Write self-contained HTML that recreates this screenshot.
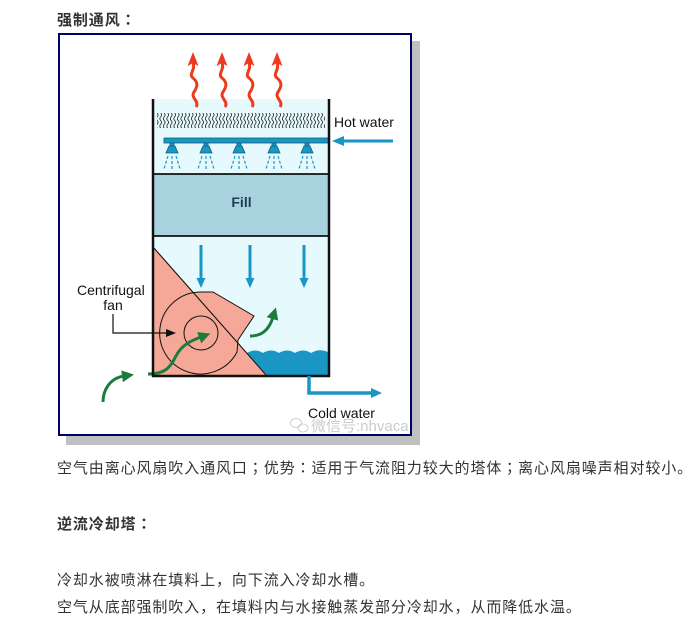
<!DOCTYPE html>
<html><head><meta charset="utf-8">
<style>
html,body{margin:0;padding:0;background:#fff;}
body{width:700px;height:630px;position:relative;overflow:hidden;}
.t{position:absolute;left:57px;font-family:"Liberation Sans","Noto Sans CJK SC",sans-serif;font-size:15px;line-height:20px;color:#333;letter-spacing:0.9px;white-space:nowrap;}
.b{font-weight:bold;}
.p{font-family:"Noto Sans CJK JP",sans-serif;}
svg{position:absolute;left:0;top:0;}
</style></head>
<body>
<div class="t b" style="top:10px">强制通风<span class="p">：</span></div>

<svg width="700" height="450" viewBox="0 0 700 450">
<defs>
 <pattern id="sq" x="156" y="113" width="3.5" height="15" patternUnits="userSpaceOnUse">
  <path d="M1.2,0 q1.8,1.9 0,3.75 t0,3.75 t0,3.75 t0,3.75" fill="none" stroke="#222" stroke-width="0.8"/>
 </pattern>
 <marker id="ga" markerUnits="userSpaceOnUse" markerWidth="12" markerHeight="12" refX="2" refY="6" orient="auto" viewBox="0 0 12 12">
  <path d="M0,0 L12,6 L0,12 Z" fill="#1c7c3e"/>
 </marker>
 <g id="ra">
  <path d="M3,55 C7,49 -3,46 1,40 C5,34 5,30 0,26 C-5,22 3,18 0,10" fill="none" stroke="#ee3a1c" stroke-width="3"/>
  <polygon points="0,0 5.5,14 0,11 -5.5,14" fill="#ee3a1c"/>
 </g>
 <g id="nz" fill="#1a96c4" stroke="#0d5f80" stroke-width="0.8">
  <rect x="-2" y="143" width="4" height="3"/>
  <polygon points="-3,146 3,146 6,153 -6,153"/>
  <g stroke="#1a96c4" stroke-width="1.2" stroke-dasharray="3 2" fill="none">
   <line x1="-4" y1="156" x2="-8" y2="169"/>
   <line x1="0" y1="156" x2="0" y2="169"/>
   <line x1="4" y1="156" x2="8" y2="169"/>
  </g>
 </g>
 <g id="da">
  <line x1="0" y1="245" x2="0" y2="279" stroke="#1a96c4" stroke-width="3"/>
  <polygon points="-4.5,278 4.5,278 0,288" fill="#1a96c4"/>
 </g>
</defs>

<!-- frame -->
<rect x="66" y="41" width="354" height="404" fill="#c0c0c0"/>
<rect x="59" y="34" width="352" height="401" fill="#fff" stroke="#000066" stroke-width="2"/>

<!-- tower regions -->
<rect x="153" y="99" width="176" height="75" fill="#e6f9fd"/>
<rect x="153" y="174" width="176" height="62" fill="#a8d2de"/>
<rect x="153" y="236" width="176" height="140" fill="#e6f9fd"/>

<!-- red vapor arrows -->
<use href="#ra" transform="translate(193,52)"/>
<use href="#ra" transform="translate(222,52)"/>
<use href="#ra" transform="translate(249,52)"/>
<use href="#ra" transform="translate(277,52)"/>

<!-- drift eliminator -->
<rect x="157" y="113" width="168" height="15" fill="url(#sq)"/>

<!-- pipe -->
<rect x="164" y="138" width="165" height="5" fill="#1a96c4" stroke="#0d5f80" stroke-width="0.8"/>
<use href="#nz" transform="translate(172,0)"/>
<use href="#nz" transform="translate(206,0)"/>
<use href="#nz" transform="translate(239,0)"/>
<use href="#nz" transform="translate(274,0)"/>
<use href="#nz" transform="translate(307,0)"/>

<!-- hot water arrow -->
<line x1="393" y1="141" x2="342" y2="141" stroke="#1a96c4" stroke-width="3"/>
<polygon points="332,141 344,136 344,146" fill="#1a96c4"/>
<text x="334" y="127" font-family="Liberation Sans, sans-serif" font-size="14" fill="#111">Hot water</text>

<!-- fill label -->
<text x="241.5" y="207" text-anchor="middle" font-family="Liberation Sans, sans-serif" font-size="14" font-weight="bold" fill="#1d3f4f">Fill</text>

<!-- down arrows -->
<use href="#da" transform="translate(201,0)"/>
<use href="#da" transform="translate(250,0)"/>
<use href="#da" transform="translate(304,0)"/>

<!-- water basin -->
<path d="M247,353 Q255,348 263,353 Q271,348 279,353 Q287,348 295,353 Q303,348 311,353 Q319,348 328,352 L328,375 L267,375 Z" fill="#1a96c4"/>

<!-- pink triangle -->
<polygon points="153,247 267,376 153,376" fill="#f5a898"/>
<!-- fan housing -->
<path d="M200,292 L213,292 L254,316 L238,340 L237,352 A41,41 0 1 1 200,292 Z" fill="#f5a898" stroke="#111" stroke-width="1"/>
<line x1="153" y1="247" x2="267" y2="376" stroke="#111" stroke-width="1.1"/>
<circle cx="201" cy="333" r="17" fill="none" stroke="#111" stroke-width="1"/>

<!-- green arrows -->
<path d="M148,374 C165,374 170,368 176,356 C182,344 193,340 201,337" fill="none" stroke="#1c7c3e" stroke-width="3" marker-end="url(#ga)"/>
<path d="M103,402 C103,390 110,378 124,376" fill="none" stroke="#1c7c3e" stroke-width="3" marker-end="url(#ga)"/>
<path d="M250,336 C262,336 269,330 273,317" fill="none" stroke="#1c7c3e" stroke-width="3" marker-end="url(#ga)"/>

<!-- walls -->
<line x1="153" y1="99" x2="153" y2="377" stroke="#111" stroke-width="2.5"/>
<line x1="329" y1="99" x2="329" y2="377" stroke="#111" stroke-width="2.5"/>
<line x1="152" y1="376" x2="330" y2="376" stroke="#111" stroke-width="2.5"/>
<line x1="153" y1="174" x2="329" y2="174" stroke="#111" stroke-width="1.8"/>
<line x1="153" y1="236" x2="329" y2="236" stroke="#111" stroke-width="1.8"/>

<!-- centrifugal fan label -->
<text x="77" y="295" font-family="Liberation Sans, sans-serif" font-size="14" fill="#111">Centrifugal</text>
<text x="113" y="310" text-anchor="middle" font-family="Liberation Sans, sans-serif" font-size="14" fill="#111">fan</text>
<polyline points="113,314 113,333 167,333" fill="none" stroke="#111" stroke-width="1.2"/>
<polygon points="176,333 166,329 166,337" fill="#111"/>

<!-- cold water -->
<polyline points="309,376 309,393 373,393" fill="none" stroke="#1a96c4" stroke-width="3.5"/>
<polygon points="382,393 371,388 371,398" fill="#1a96c4"/>
<text x="308" y="418" font-family="Liberation Sans, sans-serif" font-size="14" fill="#111">Cold water</text>

<!-- watermark -->
<g fill="none" stroke="#cfcfcf" stroke-width="1">
 <ellipse cx="296" cy="423" rx="5.5" ry="4.5"/>
 <ellipse cx="303" cy="428" rx="5" ry="4"/>
</g>
<text x="311" y="431" font-family="Liberation Sans, 'Noto Sans CJK SC', sans-serif" font-size="15" fill="#cccccc">微信号:nhvaca</text>
</svg>

<div class="t" style="top:458px">空气由离心风扇吹入通风口<span class="p">；</span>优势<span class="p">：</span>适用于气流阻力较大的塔体<span class="p">；</span>离心风扇噪声相对较小<span class="p">。</span></div>
<div class="t b" style="top:514px">逆流冷却塔<span class="p">：</span></div>
<div class="t" style="top:570px">冷却水被喷淋在填料上<span class="p">，</span>向下流入冷却水槽<span class="p">。</span></div>
<div class="t" style="top:597px">空气从底部强制吹入<span class="p">，</span>在填料内与水接触蒸发部分冷却水<span class="p">，</span>从而降低水温<span class="p">。</span></div>
</body></html>
